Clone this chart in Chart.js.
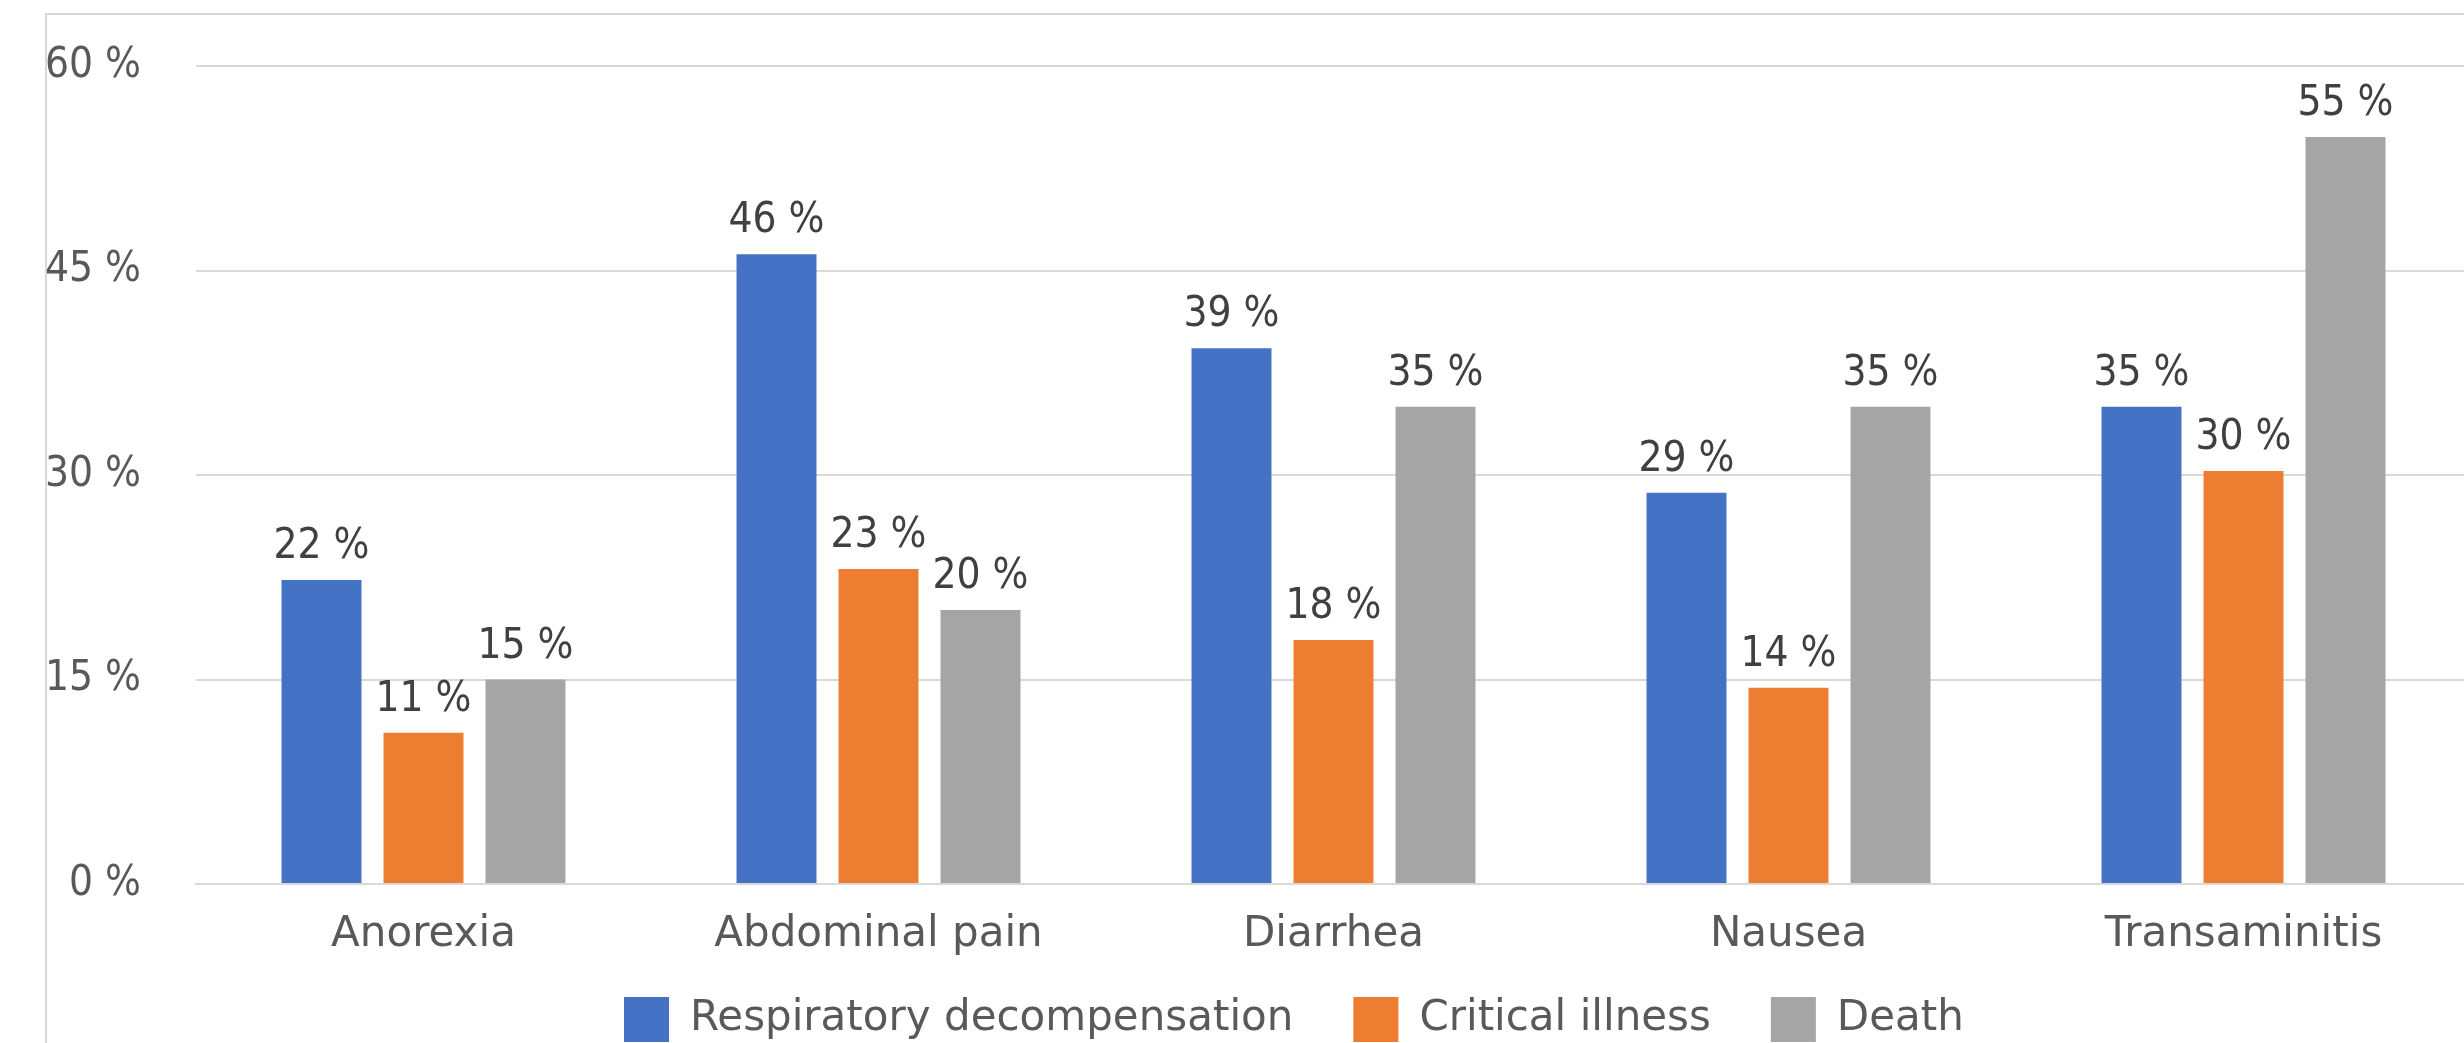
<!DOCTYPE html>
<html>
<head>
<meta charset="utf-8">
<script src="https://cdn.jsdelivr.net/npm/chart.js"></script>
<style>
  html, body { margin: 0; padding: 0; background: #fff; overflow: hidden; }
  canvas { display: block; }
</style>
</head>
<body>
<canvas id="chart" width="2471" height="1043"></canvas>
<script>
const categories = ['Anorexia', 'Abdominal pain', 'Diarrhea', 'Nausea', 'Transaminitis'];
const seriesNames = ['Respiratory decompensation', 'Critical illness', 'Death'];
const respiratory = [22.3, 46.2, 39.3, 28.7, 35.0];
const critical = [11.1, 23.1, 17.9, 14.4, 30.3];
const death = [15.0, 20.1, 35.0, 35.0, 54.8];
const yTicks = [0, 15, 30, 45, 60];
const colors = ['#4472C4', '#ED7D31', '#A5A5A5'];

const numFont = "'DejaVu Sans Condensed', 'DejaVu Sans', sans-serif";
Chart.defaults.font.family = "'DejaVu Sans', sans-serif";
Chart.defaults.font.size = 42;
Chart.defaults.color = '#595959';

// outer chart frame (only top and left edges are visible in the crop)
const frame = {
  id: 'frame',
  beforeDraw(chart) {
    const ctx = chart.ctx;
    ctx.save();
    ctx.strokeStyle = '#d9d9d9';
    ctx.lineWidth = 2;
    ctx.beginPath();
    ctx.moveTo(46, chart.height);
    ctx.lineTo(46, 14);
    ctx.lineTo(chart.width, 14);
    ctx.stroke();
    ctx.restore();
  }
};

// put the legend row where the original has it
const legendPlace = {
  id: 'legendPlace',
  afterLayout(chart) {
    const lg = chart.legend;
    const pad = lg.options.labels.padding;
    const startX = (lg.left + pad + lg.right - lg.lineWidths[0]) / 2;
    const dx = 624 - startX;
    lg.left += dx;
    lg.right += dx;
    const h = lg.height;
    lg.top = 997 - pad;
    lg.bottom = lg.top + h;
  }
};

// value labels above each bar
const barLabels = {
  id: 'barLabels',
  afterDatasetsDraw(chart) {
    const ctx = chart.ctx;
    ctx.save();
    ctx.font = '42px ' + numFont;
    ctx.fillStyle = '#404040';
    ctx.textAlign = 'center';
    ctx.textBaseline = 'alphabetic';
    chart.data.datasets.forEach((ds, i) => {
      chart.getDatasetMeta(i).data.forEach((bar, j) => {
        ctx.fillText(Math.round(ds.data[j]) + ' %', bar.x, bar.y - 22);
      });
    });
    ctx.restore();
  }
};

const data = {
  labels: categories,
  datasets: [
    { label: seriesNames[0], data: respiratory, backgroundColor: colors[0] },
    { label: seriesNames[1], data: critical, backgroundColor: colors[1] },
    { label: seriesNames[2], data: death, backgroundColor: colors[2] }
  ]
};

new Chart(document.getElementById('chart'), {
  type: 'bar',
  data: data,
  options: {
    responsive: false,
    animation: false,
    layout: { padding: { top: 66, left: 0, right: 0, bottom: -46 } },
    datasets: {
      bar: { categoryPercentage: 0.6725, barPercentage: 0.784, borderWidth: 0 }
    },
    scales: {
      x: {
        grid: { display: false, drawTicks: false },
        border: { color: '#d9d9d9', width: 2 },
        ticks: { padding: 26, color: '#595959' },
        afterFit(scale) { scale.height = 90; }
      },
      y: {
        min: 0,
        max: 60,
        afterBuildTicks(scale) { scale.ticks = yTicks.map(v => ({ value: v })); },
        grid: { color: '#d9d9d9', lineWidth: 2, drawTicks: true, tickLength: 55, tickColor: 'rgba(0,0,0,0)' },
        border: { display: false },
        ticks: { padding: 0, color: '#595959', font: { family: numFont }, callback: v => v + ' %' },
        afterFit(scale) { scale.width = 196; }
      }
    },
    plugins: {
      legend: {
        position: 'bottom',
        labels: { boxWidth: 45, boxHeight: 45, padding: 60, color: '#595959' }
      },
      tooltip: { enabled: false }
    }
  },
  plugins: [frame, legendPlace, barLabels]
});
</script>
</body>
</html>
